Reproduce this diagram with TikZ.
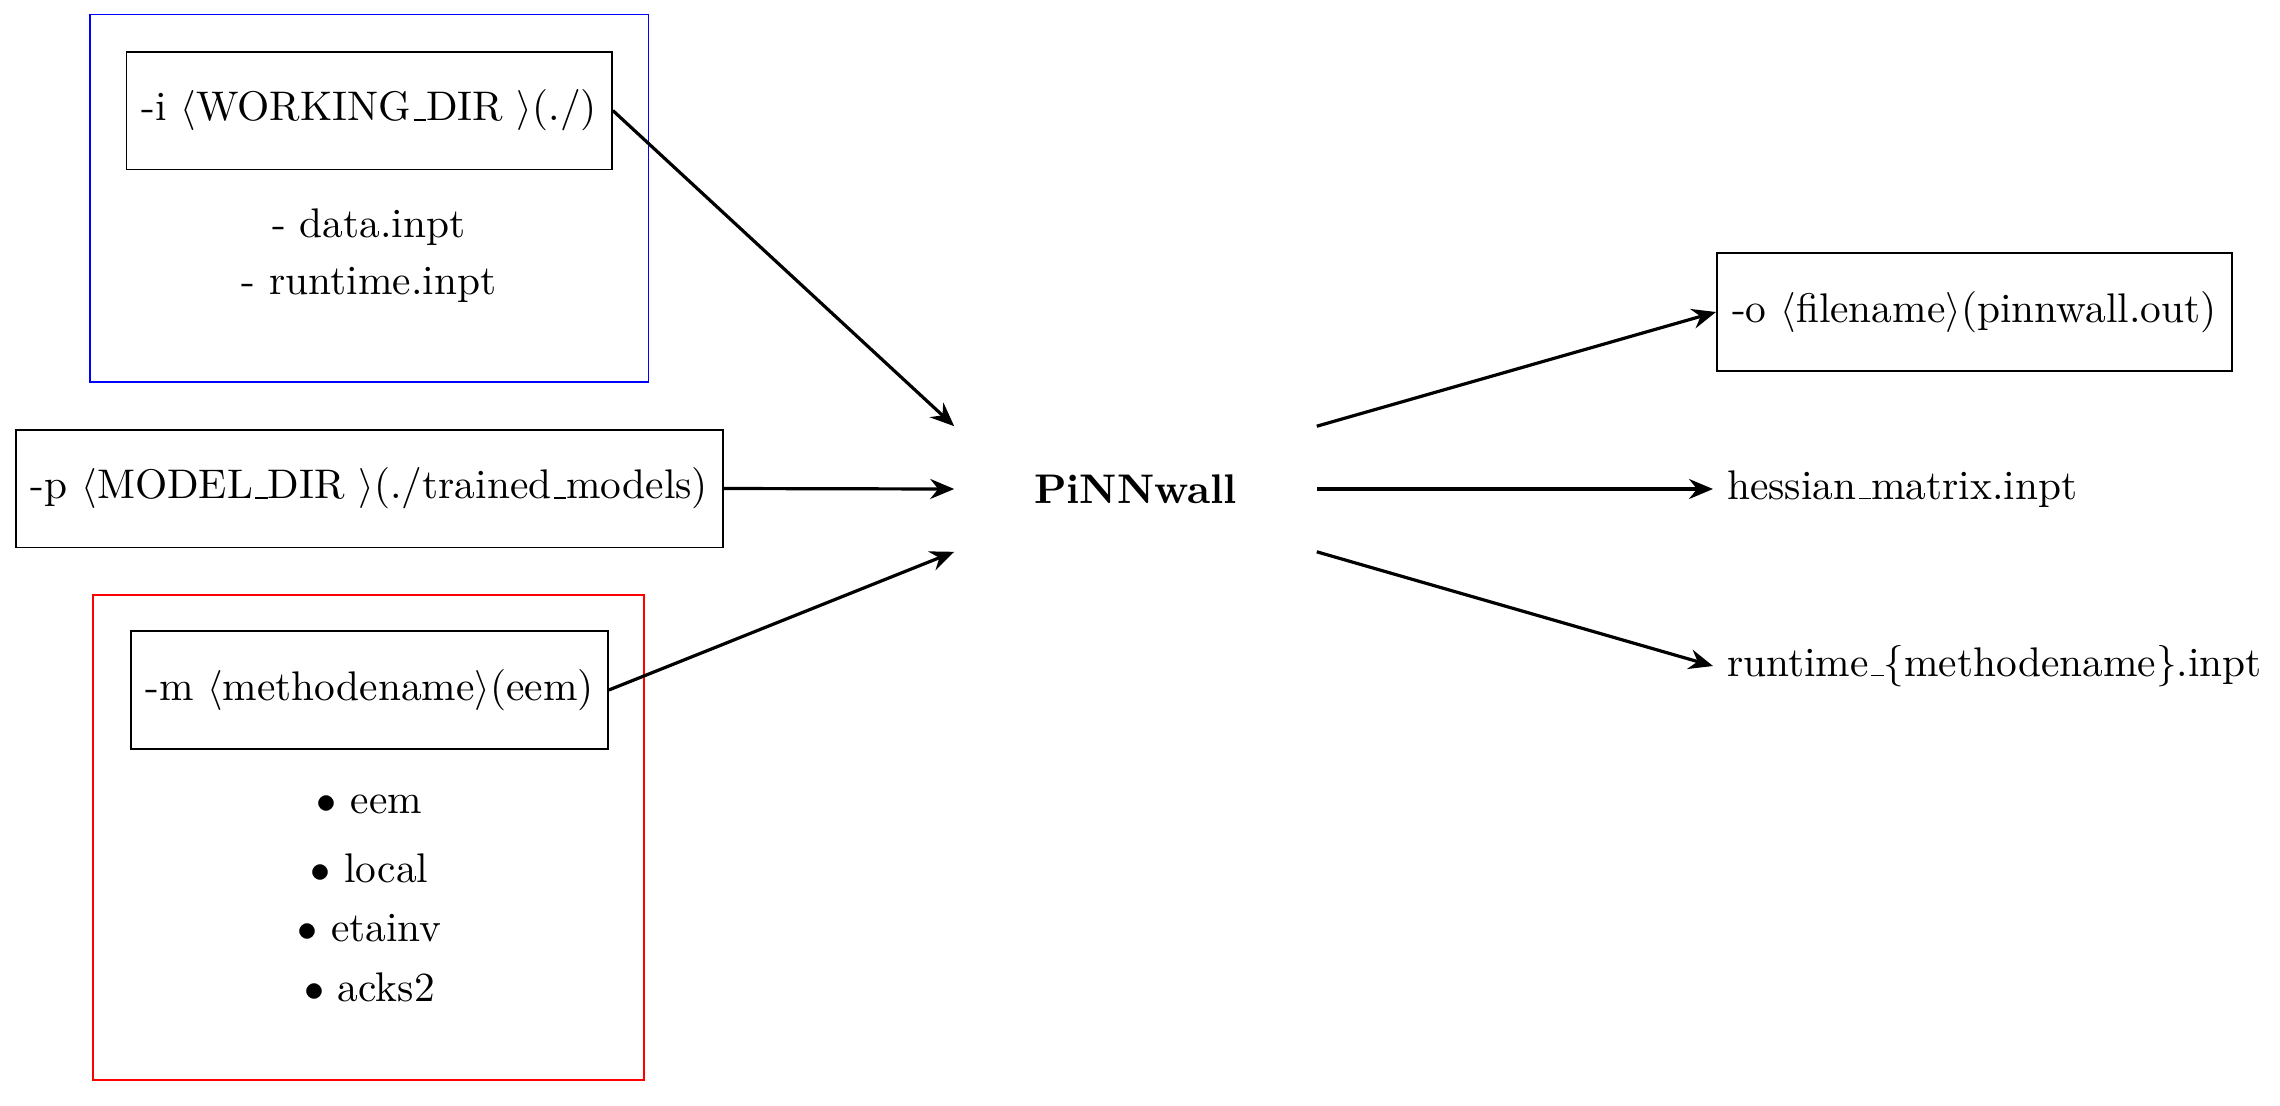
\documentclass[tikz,border=0pt]{standalone}
\usetikzlibrary{arrows.meta}
\newcommand\usc{\leavevmode\kern.06em\vbox{\hrule width.3em}}
\tikzset{
  every node/.style={font=\fontsize{10.35pt}{12.5pt}\selectfont},
  optbox/.style={draw, rectangle, thin, minimum height=29.4pt, inner sep=3pt},
  frame/.style={draw, rectangle, thin},
  plain/.style={inner sep=3.33pt},
  conn/.style={thick, -{Stealth[length=6pt,width=5pt,inset=2pt]}},
}
\begin{document}
\begin{tikzpicture}[x=0.25pt, y=-0.25pt]
\useasboundingbox (0,0) rectangle (2280,1105);
% frames
\node[frame, blue, minimum width=139.6pt, minimum height=91.9pt] (bframe) at (369.25,198.25) {};
\node[frame, red, minimum width=137.75pt, minimum height=121.25pt] (rframe) at (368.5,837.5) {};
% left option boxes
\node[optbox, minimum width=121.4pt] (wd) at (369.25,110.5) {-i $\langle$WORKING\usc DIR $\rangle$(./)};
\node[plain] (data) at (369,227) {- data.inpt};
\node[plain] (rt) at (369,285) {- runtime.inpt};
\node[optbox, minimum width=176.75pt] (md) at (369.5,488.5) {-p $\langle$MODEL\usc DIR $\rangle$(./trained\usc models)};
\node[optbox, minimum width=119.25pt] (mt) at (369.5,690) {-m $\langle$methodename$\rangle$(eem)};
\node[plain] (b1) at (369.5,804) {$\bullet$ eem};
\node[plain] (b2) at (369.5,868) {$\bullet$ local};
\node[plain] (b3) at (369.5,928) {$\bullet$ etainv};
\node[plain] (b4) at (369.5,987) {$\bullet$ acks2};
% center
\node[minimum width=90.25pt, minimum height=31pt, inner sep=0pt] (pw) at (1135.5,489) {\textbf{PiNNwall}};
% outputs
\node[optbox, minimum width=128.75pt, anchor=west] (out) at (1716,312) {-o $\langle$filename$\rangle$(pinnwall.out)};
\node[plain, anchor=west] (hess) at (1713,489) {hessian\usc matrix.inpt};
\node[plain, anchor=west] (rtm) at (1713,666) {runtime\usc\{methodename\}.inpt};
% connectors
\draw[conn] (wd.east) -- (pw.north west);
\draw[conn] (md.east) -- (pw.west);
\draw[conn] (mt.east) -- (pw.south west);
\draw[conn] (pw.north east) -- (out.west);
\draw[conn] (pw.east) -- (hess.west);
\draw[conn] (pw.south east) -- (rtm.west);
\end{tikzpicture}
\end{document}
